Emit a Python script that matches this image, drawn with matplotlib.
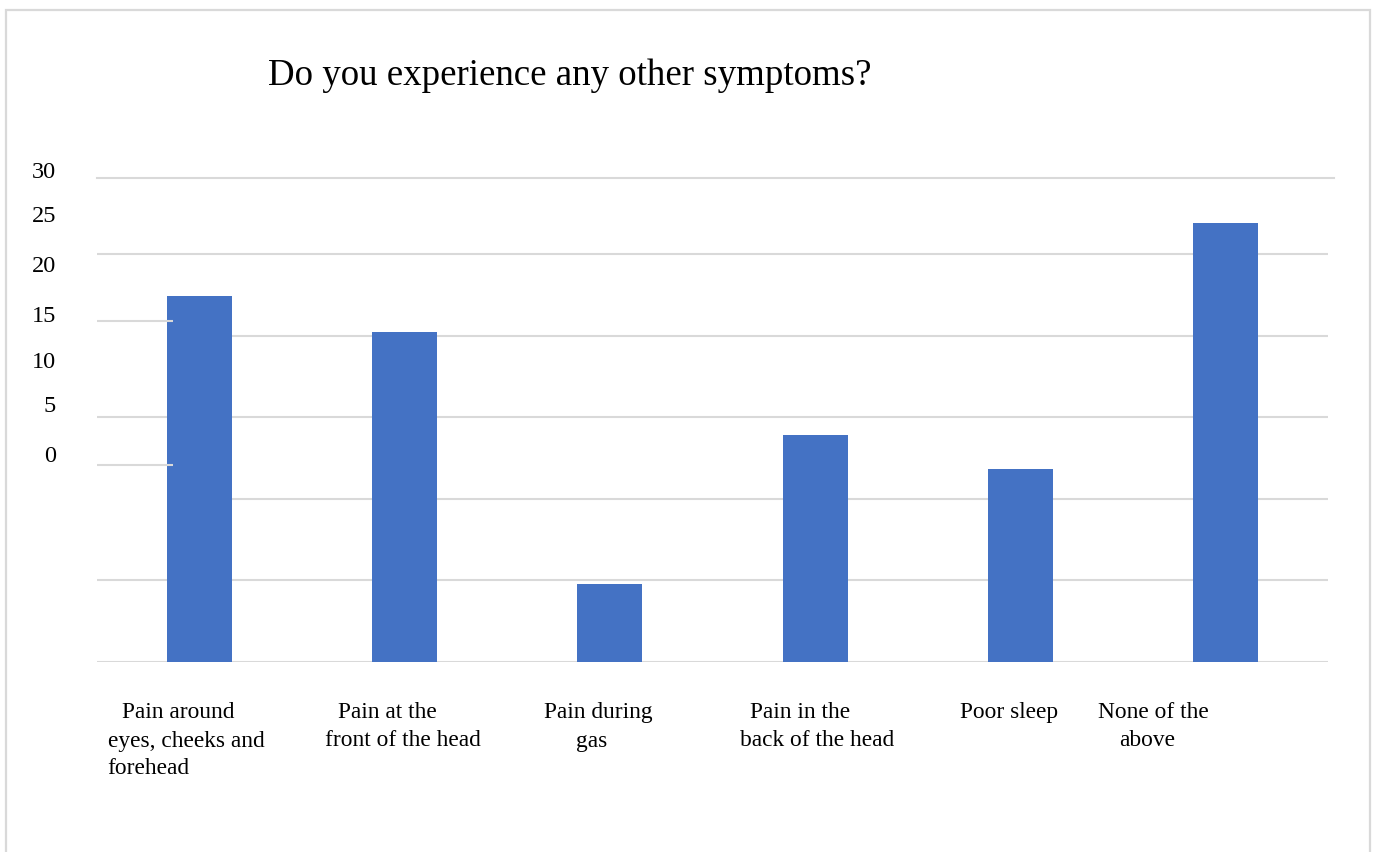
import numpy as np
import matplotlib
matplotlib.use('Agg')
import matplotlib.pyplot as plt
from matplotlib.lines import Line2D
from matplotlib.patches import Rectangle

# data
categories = ['Pain around eyes, cheeks and forehead', 'Pain at the front of the head',
              'Pain during gas', 'Pain in the back of the head', 'Poor sleep', 'None of the above']
values = [22.4, 20.2, 4.8, 13.9, 11.8, 26.9]
y_tick_labels = ['30', '25', '20', '15', '10', '5', '0']
grid_values = [0, 5, 10, 15, 20, 25]
title = 'Do you experience any other symptoms?'

# category labels as they are broken and placed in the picture (line, left px, centre y px)
label_lines = [
    ('Pain around', 122, 713), ('eyes, cheeks and', 108, 741), ('forehead', 107, 769),
    ('Pain at the', 338, 713), ('front of the head', 325, 741),
    ('Pain during', 544, 713), ('gas', 576, 741),
    ('Pain in the', 750, 713), ('back of the head', 740, 741),
    ('Poor sleep', 960, 713),
    ('None of the', 1098, 713), ('above', 1119, 741),
]
ytick_y = [172, 217, 267, 317, 362, 407, 457]

W, H = 1374, 853
BAR = '#4472C4'
GRID = '#d9d9d9'
SERIF = ['Liberation Serif', 'DejaVu Serif']

fig = plt.figure(figsize=(W / 100, H / 100), dpi=100)
fig.patch.set_facecolor('white')

# outer chart frame (bottom edge runs off the picture)
fig.add_artist(Rectangle((6 / W, -0.05), (1370 - 6) / W, 1.05 - 11 / H,
                         transform=fig.transFigure, fill=False, ec=GRID, lw=1.6))

ax = fig.add_axes([97 / W, (H - 663) / H, (1328 - 97) / W, (663 - 179) / H])
top = (663 - 179) / 16.32
ax.set_ylim(0, top)
ax.set_xlim(-0.5, len(categories) - 0.5)
for s in ax.spines.values():
    s.set_visible(False)
ax.set_xticks([])
ax.set_yticks([])

x = np.arange(len(categories))
ax.bar(x, values, width=0.317, color=BAR, zorder=2)

# gridlines
for g in grid_values:
    x0 = 0 if g in (10, 20) else -0.5
    ax.plot([x0, len(categories) - 0.5], [g, g], color=GRID, lw=1.5, zorder=1,
            solid_capstyle='butt')
ax.add_line(Line2D([0, 1.005], [1, 1], transform=ax.transAxes, color=GRID, lw=1.5,
                   clip_on=False))
# stray short segments at the left
xs_end = (173 - 97) / 205.2 - 0.5
for yy in [(663 - 322) / 16.32, (663 - 466) / 16.32]:
    ax.plot([-0.5, xs_end], [yy, yy], color=GRID, lw=1.5, zorder=3, solid_capstyle='butt')

# y tick labels
for lab, yp in zip(y_tick_labels, ytick_y):
    fig.text(56 / W, 1 - yp / H, lab, ha='right', va='center', fontsize=17.5,
             family=SERIF, color='black')

# category labels
for txt, xp, yp in label_lines:
    fig.text(xp / W, 1 - yp / H, txt, ha='left', va='center', fontsize=16.8,
             family=SERIF, color='black')

fig.text(268 / W, 1 - 76 / H, title, ha='left', va='center', fontsize=26.6,
         family=SERIF, color='black')

fig.savefig('out.png', dpi=100)
